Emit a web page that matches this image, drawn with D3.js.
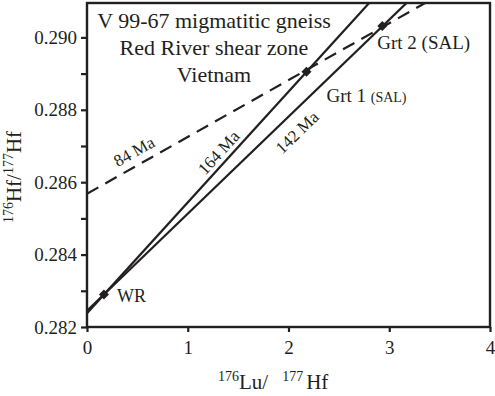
<!DOCTYPE html>
<html>
<head>
<meta charset="utf-8">
<script src="https://cdn.jsdelivr.net/npm/d3@7"></script>
<style>
  body { margin: 0; background: #fff; }
  text { font-family: "Liberation Serif", "Times New Roman", serif; fill: #231f20; }
</style>
</head>
<body>
<div id="chart"></div>
<script>
var width = 495,
  height = 396;

// axis ticks
const xTicks = [0, 1, 2, 3, 4];
const yTicks = [0.282, 0.284, 0.286, 0.288, 0.29];
const yMinorTicks = [0.283, 0.285, 0.287, 0.289];

// measured samples (176Lu/177Hf, 176Hf/177Hf)
const sampleNames = ["WR", "Grt 1", "Grt 2"];
const sampleLu = [0.168, 2.178, 2.931];
const sampleHf = [0.282897, 0.289048, 0.290317];

// isochron / reference lines
const lineLabels = ["164 Ma", "142 Ma", "84 Ma"];
const lineIntercepts = [0.28238, 0.28245, 0.28568];
const lineSlopes = [0.00306, 0.00268, 0.00157];

const titleLines = ["V 99-67 migmatitic gneiss", "Red River shear zone", "Vietnam"];

var x = d3.scaleLinear().domain([0, 4]).range([87, 490]);
var y = d3.scaleLinear().domain([0.282, 0.29095]).range([327, 3]);

var svg = d3
  .select("#chart")
  .append("svg")
  .attr("width", width)
  .attr("height", height);

svg.append("clipPath")
  .attr("id", "plotclip")
  .append("rect")
  .attr("x", x(0))
  .attr("y", y.range()[1])
  .attr("width", x(4) - x(0))
  .attr("height", y.range()[0] - y.range()[1]);

// Axes
var xAxis = svg.append("g")
  .attr("transform", "translate(0," + y.range()[0] + ")")
  .call(d3.axisBottom(x).tickValues(xTicks).tickSize(5).tickSizeOuter(0).tickFormat(d3.format("d")));
var yAxis = svg.append("g")
  .attr("transform", "translate(" + x(0) + ",0)")
  .call(d3.axisLeft(y).tickValues(yTicks).tickSize(6).tickSizeOuter(0).tickFormat(d3.format(".3f")));
svg.append("g")
  .attr("transform", "translate(" + x(0) + ",0)")
  .call(d3.axisLeft(y).tickValues(yMinorTicks).tickSize(6).tickSizeOuter(0).tickFormat(""))
  .select(".domain").remove();

svg.selectAll(".domain").remove();
svg.selectAll(".tick line").attr("stroke", "#231f20").attr("stroke-width", 2.2);
xAxis.selectAll(".tick text")
  .attr("y", 14)
  .attr("dy", "0.71em")
  .style("font-size", "19px")
  .style("font-family", "'Liberation Serif', serif")
  .attr("fill", "#231f20");
yAxis.selectAll(".tick text")
  .attr("x", -10)
  .style("font-size", "19px")
  .style("font-family", "'Liberation Serif', serif")
  .attr("fill", "#231f20");

// Frame
svg.append("rect")
  .attr("x", x(0))
  .attr("y", y.range()[1])
  .attr("width", x(4) - x(0))
  .attr("height", y.range()[0] - y.range()[1])
  .attr("fill", "none")
  .attr("stroke", "#231f20")
  .attr("stroke-width", 2.4);

// Lines
var plot = svg.append("g").attr("clip-path", "url(#plotclip)");
lineLabels.forEach(function (lab, i) {
  plot.append("line")
    .attr("x1", x(0))
    .attr("y1", y(lineIntercepts[i]))
    .attr("x2", x(4))
    .attr("y2", y(lineIntercepts[i] + lineSlopes[i] * 4))
    .attr("stroke", "#231f20")
    .attr("stroke-width", 2.2)
    .attr("stroke-dasharray", i == 2 ? "13,8" : null);
});

// line labels, rotated along the line
var labelT = [1.386, 1.966, 0.534],
  labelDy = [-5, 23, -8];
lineLabels.forEach(function (lab, i) {
  var t = labelT[i];
  var px = x(t),
    py = y(lineIntercepts[i] + lineSlopes[i] * t);
  var ang = Math.atan2(
    y(lineIntercepts[i] + lineSlopes[i] * (t + 1)) - py,
    x(t + 1) - px
  ) * 180 / Math.PI;
  svg.append("text")
    .attr("transform", "translate(" + px + "," + py + ") rotate(" + ang + ")")
    .attr("dy", labelDy[i])
    .attr("text-anchor", "middle")
    .style("font-size", "17px")
    .text(lab);
});

// Sample markers
svg.selectAll(".pt")
  .data(sampleNames)
  .enter()
  .append("path")
  .attr("class", "pt")
  .attr("d", d3.symbol().type(d3.symbolSquare).size(50))
  .attr("transform", function (d, i) {
    return "translate(" + x(sampleLu[i]) + "," + y(sampleHf[i]) + ") rotate(45)";
  })
  .attr("fill", "#231f20");

// Sample labels
svg.append("text").attr("x", x(sampleLu[0]) + 13).attr("y", y(sampleHf[0]) + 7)
  .style("font-size", "18px").text("WR");
var g1 = svg.append("text").attr("x", x(sampleLu[1]) + 20).attr("y", y(sampleHf[1]) + 30)
  .style("font-size", "19px");
g1.append("tspan").text("Grt 1 ");
g1.append("tspan").style("font-size", "14px").text("(SAL)");
svg.append("text").attr("x", x(sampleLu[2]) - 5).attr("y", y(sampleHf[2]) + 23)
  .style("font-size", "19px").text("Grt 2 (SAL)");

// Title
svg.selectAll(".title")
  .data(titleLines)
  .enter()
  .append("text")
  .attr("class", "title")
  .attr("x", 214)
  .attr("y", function (d, i) { return 28 + 27 * i; })
  .attr("text-anchor", "middle")
  .style("font-size", "22px")
  .text(function (d) { return d; });

// Axis titles
var xl = svg.append("text").attr("x", 218).attr("y", 389).style("font-size", "21px");
xl.append("tspan").style("font-size", "14px").attr("dy", -8).text("176");
xl.append("tspan").attr("dy", 8).text("Lu/");
xl.append("tspan").style("font-size", "14px").attr("dx", 14).attr("dy", -8).text("177");
xl.append("tspan").attr("dx", 3).attr("dy", 8).text("Hf");

var yl = svg.append("text")
  .attr("transform", "translate(21,177) rotate(-90)")
  .attr("text-anchor", "middle")
  .style("font-size", "21px");
yl.append("tspan").style("font-size", "14px").attr("dy", -8).text("176");
yl.append("tspan").attr("dy", 8).text("Hf/");
yl.append("tspan").style("font-size", "14px").attr("dy", -8).text("177");
yl.append("tspan").attr("dy", 8).text("Hf");
</script>
</body>
</html>
